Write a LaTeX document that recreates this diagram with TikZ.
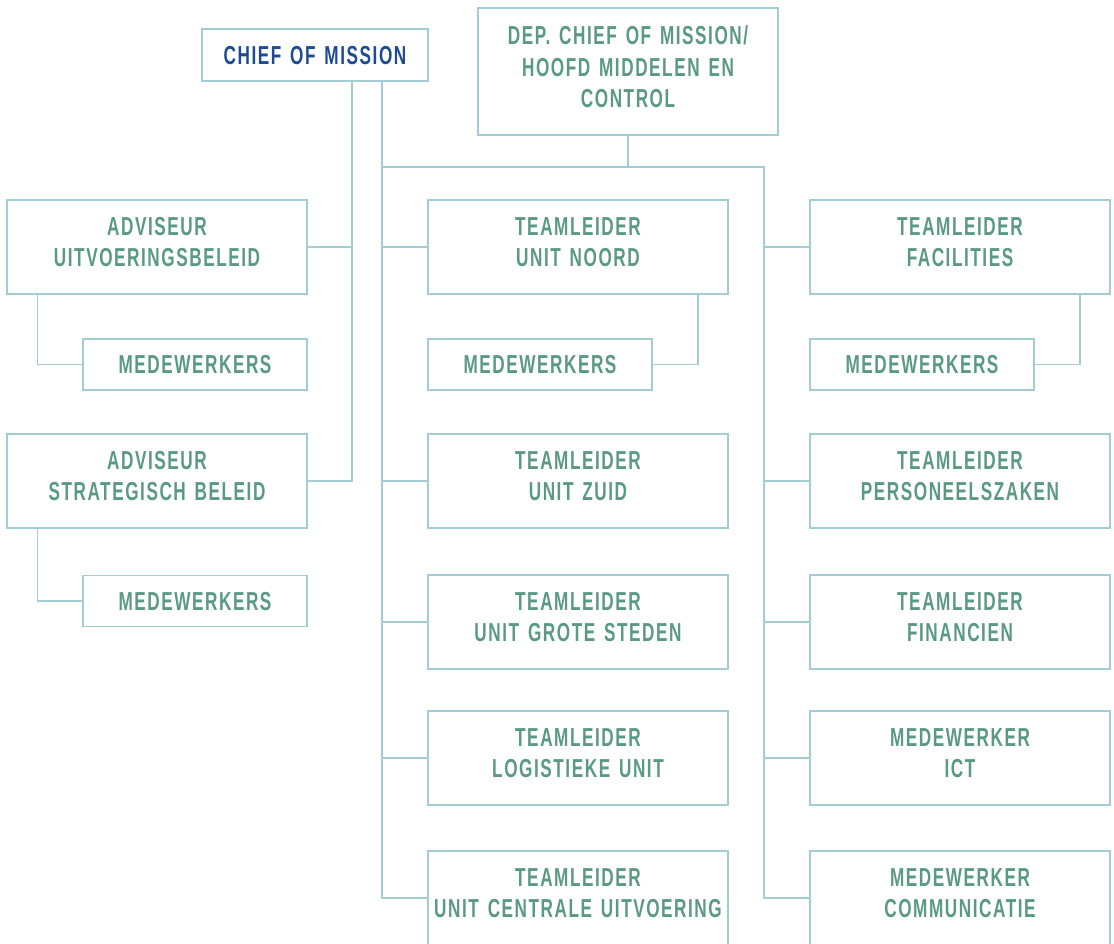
\documentclass[tikz,border=0pt]{standalone}
\usepackage{fontspec}
\usepackage{tikz}
\newfontfamily\orgfont{Liberation Sans}[FakeStretch=0.66,LetterSpace=6,WordSpace=1.4]
\definecolor{linecol}{HTML}{A2CDD4}
\definecolor{txtgreen}{HTML}{5A9A82}
\definecolor{txtblue}{HTML}{1C4A94}

\begin{document}
\begin{tikzpicture}[x=1pt,y=-1pt]
		\tikzset{mybox/.style={draw=linecol,line width=1.5pt,fill=white,inner sep=0pt,align=center,
			text=txtgreen,font=\orgfont\bfseries\fontsize{26}{31.5}\selectfont,
			minimum width=300pt,minimum height=94pt,text depth=10pt}}
		\tikzset{mysmall/.style={mybox,minimum width=224pt,minimum height=51pt,text depth=0pt}}
		\tikzset{myline/.style={draw=linecol,line width=1.5pt}}
		\useasboundingbox (0,0) rectangle (1114,943);
		\node[mysmall,text=txtblue,minimum width=226pt,minimum height=52pt] (chief) at (315,55) {CHIEF OF MISSION}; %top
		\node[mybox,minimum height=127pt,text depth=9pt] (dep) at (628,71.5) {DEP. CHIEF OF MISSION/\\HOOFD MIDDELEN EN\\CONTROL};
		\node[mybox] (adv1) at (157,247) {ADVISEUR\\UITVOERINGSBELEID}; %left column
		\node[mysmall] (mw1) at (195,364.5) {MEDEWERKERS};
		\node[mybox] (adv2) at (157,481) {ADVISEUR\\STRATEGISCH BELEID};
		\node[mysmall] (mw2) at (195,601) {MEDEWERKERS};
		\node[mybox] (noord) at (578,247) {TEAMLEIDER\\UNIT NOORD}; %middle column
		\node[mysmall] (mw3) at (540,364.5) {MEDEWERKERS};
		\node[mybox] (zuid) at (578,481) {TEAMLEIDER\\UNIT ZUID};
		\node[mybox] (grote) at (578,622) {TEAMLEIDER\\UNIT GROTE STEDEN};
		\node[mybox] (logis) at (578,758) {TEAMLEIDER\\LOGISTIEKE UNIT};
		\node[mybox] (cent) at (578,898) {TEAMLEIDER\\UNIT CENTRALE UITVOERING};
		\node[mybox] (fac) at (960,247) {TEAMLEIDER\\FACILITIES}; %right column
		\node[mysmall] (mw4) at (922,364.5) {MEDEWERKERS};
		\node[mybox] (pers) at (960,481) {TEAMLEIDER\\PERSONEELSZAKEN};
		\node[mybox] (fin) at (960,622) {TEAMLEIDER\\FINANCIEN};
		\node[mybox] (ict) at (960,758) {MEDEWERKER\\ICT};
		\node[mybox] (comm) at (960,898) {MEDEWERKER\\COMMUNICATIE};
		\coordinate (busA) at (352,81); %bus lines
		\coordinate (busB) at (382,81);
		\coordinate (busC) at (764,167);
		\draw[myline] (busA) |- (adv2.east);
		\draw[myline] (adv1.east) -- (adv1.east -| busA);
		\draw[myline] (busB) |- (cent.west);
		\foreach \n in {noord,zuid,grote,logis}
			\draw[myline] (\n.west) -- (\n.west -| busB);
		\draw[myline] (dep.south) -- (dep.south |- busC);
		\draw[myline] (busB |- busC) -- (busC) |- (comm.west);
		\foreach \n in {fac,pers,fin,ict}
			\draw[myline] (\n.west) -- (\n.west -| busC);
		\draw[myline] ([xshift=31pt]adv1.south west) |- (mw1.west); %staff
		\draw[myline] ([xshift=31pt]adv2.south west) |- (mw2.west);
		\draw[myline] ([xshift=-31pt]noord.south east) |- (mw3.east);
		\draw[myline] ([xshift=-31pt]fac.south east) |- (mw4.east);
	\end{tikzpicture}
\end{document}
